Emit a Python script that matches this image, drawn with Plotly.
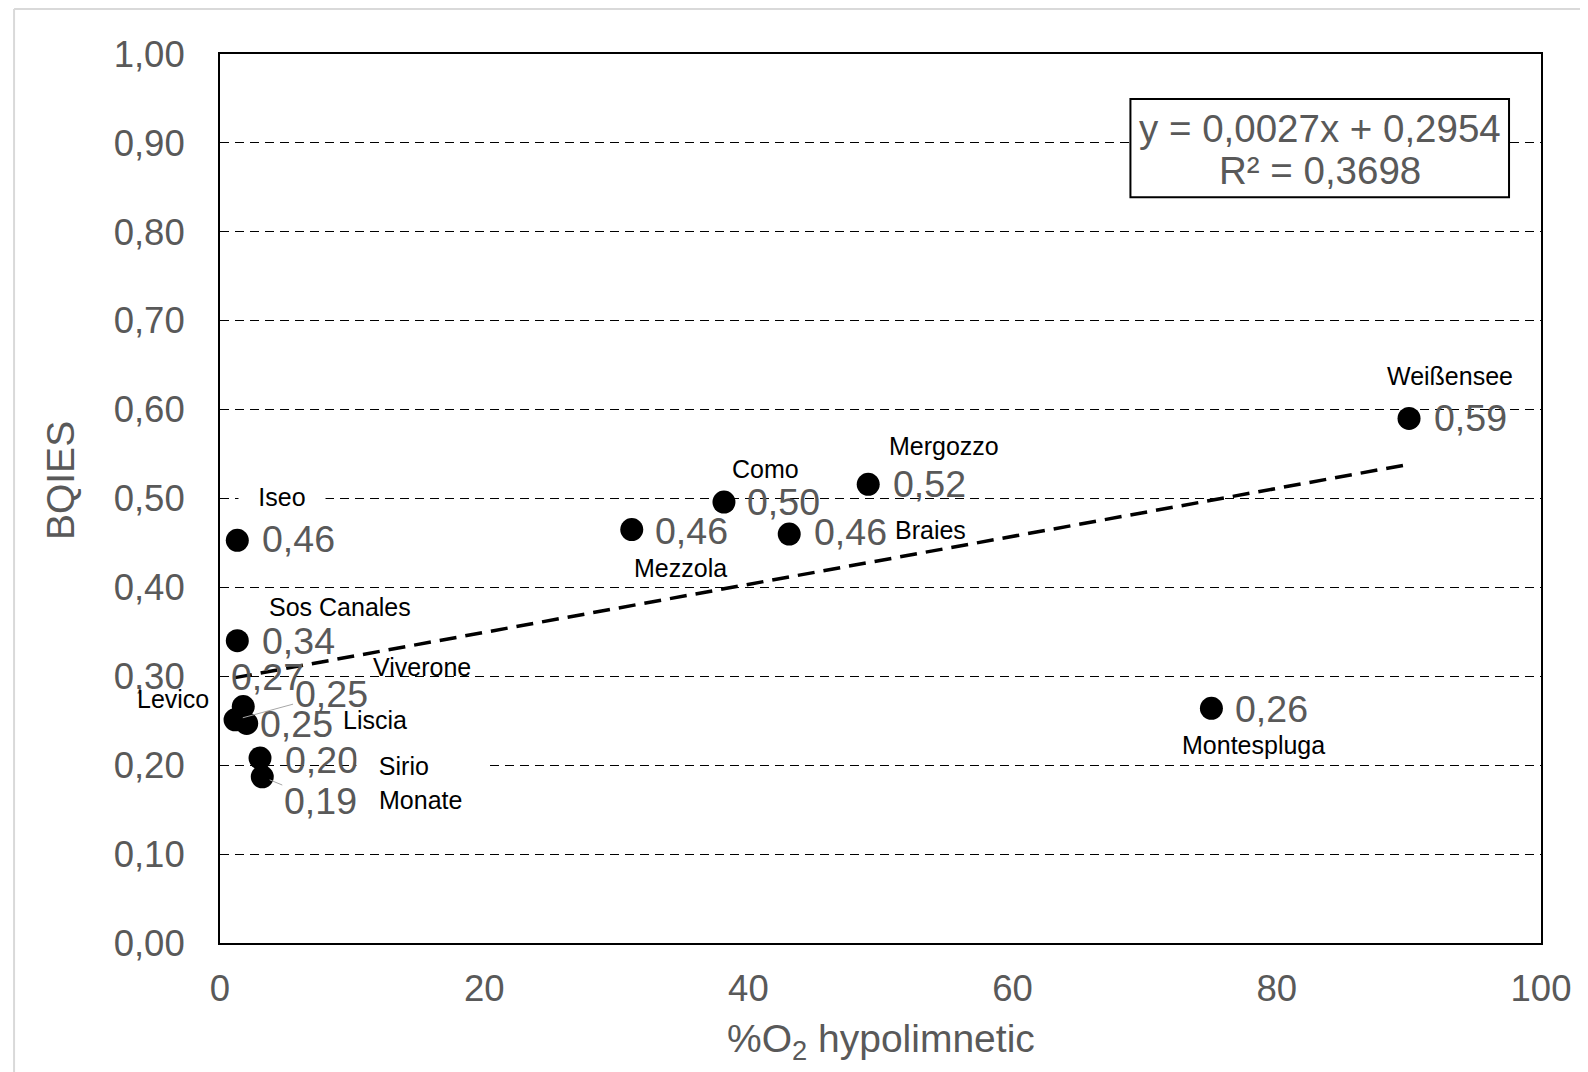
import plotly.graph_objects as go

# ---------------- data ----------------
lakes = ["Iseo", "Sos Canales", "Viverone", "Levico", "Liscia", "Sirio", "Monate",
         "Mezzola", "Como", "Braies", "Mergozzo", "Weißensee", "Montespluga"]
o2_hypo = [1.31, 1.31, 1.76, 1.14, 2.02, 3.03, 3.20,
           31.17, 38.15, 43.09, 49.07, 90.01, 75.05]
bqies = [0.453, 0.340, 0.266, 0.251, 0.247, 0.208, 0.187,
         0.465, 0.496, 0.460, 0.516, 0.590, 0.264]
value_labels = ["0,46", "0,34", "0,27", "0,25", "0,25", "0,20", "0,19",
                "0,46", "0,50", "0,46", "0,52", "0,59", "0,26"]
SLOPE = 0.0027
INTERCEPT = 0.2954
equation_lines = ["y = 0,0027x + 0,2954", "R² = 0,3698"]
x_ticks = [0, 20, 40, 60, 80, 100]
y_ticks = [0.0, 0.1, 0.2, 0.3, 0.4, 0.5, 0.6, 0.7, 0.8, 0.9, 1.0]

# ---------------- label placement (pixel offsets from each point) ----------------
# (value dx, value dy, name dx, name dy, leader)
offsets = {
    "Iseo":        (61, 1, 45, 43, False),
    "Sos Canales": (61, 0, 103, 34, False),
    "Viverone":    (24, 30, 179, 40, False),
    "Levico":      (96, 26, -62, 21, True),
    "Liscia":      (50, -1, 128, 3, False),
    "Sirio":       (61, -2, 162, -8, False),
    "Monate":      (58, -24, 158, -23, True),
    "Mezzola":     (60, -1, 49, -38, False),
    "Como":        (60, 0, 42, 33, False),
    "Braies":      (61, 2, 141, 4, False),
    "Mergozzo":    (61, 0, 76, 38, False),
    "Weißensee":   (61, 0, 41, 42, False),
    "Montespluga": (60, -1, 42, -37, False),
}

FONT = "Liberation Sans, Arial, sans-serif"
GRAY = "#595959"

fig = go.Figure()

xs_trend = [min(o2_hypo), max(o2_hypo)]
fig.add_trace(go.Scatter(
    x=xs_trend, y=[SLOPE * v + INTERCEPT for v in xs_trend],
    mode="lines", line=dict(color="black", width=3.5, dash="17px,9px"),
    hoverinfo="skip", showlegend=False))

fig.add_trace(go.Scatter(
    x=o2_hypo, y=bqies, mode="markers",
    marker=dict(color="black", size=23, line=dict(width=0)),
    text=lakes, showlegend=False))

annotations = []
for name, xv, yv, lab in zip(lakes, o2_hypo, bqies, value_labels):
    vdx, vdy, ndx, ndy, leader = offsets[name]
    if leader:
        annotations.append(dict(
            x=xv, y=yv, xref="x", yref="y", text=lab, showarrow=True,
            ax=vdx, ay=-vdy, arrowhead=0, arrowwidth=1, arrowcolor="#a6a6a6",
            standoff=8, font=dict(family=FONT, size=37.5, color=GRAY)))
    else:
        annotations.append(dict(
            x=xv, y=yv, xref="x", yref="y", text=lab, showarrow=False,
            xshift=vdx, yshift=vdy, xanchor="center", yanchor="middle",
            font=dict(family=FONT, size=37.5, color=GRAY)))
    nd = dict(x=xv, y=yv, xref="x", yref="y", text=name, showarrow=False,
              xshift=ndx, yshift=ndy, xanchor="center", yanchor="middle",
              font=dict(family=FONT, size=25, color="black"))
    if name == "Iseo":
        nd.update(bgcolor="white", width=84)
    if name == "Sirio":
        nd.update(bgcolor="white", width=129, align="left",
                  text="&nbsp;&nbsp;&nbsp;Sirio")
    annotations.append(nd)

# equation box text
annotations.append(dict(x=0.8325, y=0.9159, xref="paper", yref="paper",
                        text=equation_lines[0], showarrow=False,
                        xanchor="center", yanchor="middle",
                        font=dict(family=FONT, size=38.5, color=GRAY)))
annotations.append(dict(x=0.8325, y=0.8686, xref="paper", yref="paper",
                        text=equation_lines[1], showarrow=False,
                        xanchor="center", yanchor="middle",
                        font=dict(family=FONT, size=38.5, color=GRAY)))
# axis titles
annotations.append(dict(x=-0.1203, y=0.5197, xref="paper", yref="paper",
                        text="BQIES", textangle=-90, showarrow=False,
                        xanchor="center", yanchor="middle",
                        font=dict(family=FONT, size=39, color=GRAY)))
annotations.append(dict(x=0.5007, y=-0.1106, xref="paper", yref="paper",
                        text="%O<sub>2</sub> hypolimnetic", showarrow=False,
                        xanchor="center", yanchor="middle",
                        font=dict(family=FONT, size=39, color=GRAY)))

shapes = [
    dict(type="rect", xref="paper", yref="paper", x0=0.6892, x1=0.9758,
         y0=0.8390, y1=0.9494, line=dict(color="black", width=2),
         fillcolor="white", layer="above"),
    # page frame
    dict(type="line", xref="paper", yref="paper", x0=-0.1559, x1=1.04,
         y0=1.0505, y1=1.0505, line=dict(color="#d9d9d9", width=2)),
    dict(type="line", xref="paper", yref="paper", x0=-0.1559, x1=-0.1559,
         y0=1.0505, y1=-0.15, line=dict(color="#d9d9d9", width=2)),
]

fig.update_layout(
    width=1588, height=1072,
    margin=dict(l=212, r=55, t=46, b=137),
    paper_bgcolor="white", plot_bgcolor="white",
    separators=",.",
    showlegend=False,
    annotations=annotations,
    shapes=shapes,
    font=dict(family=FONT, color=GRAY),
    xaxis=dict(range=[0, 100], tickvals=x_ticks, showgrid=False, zeroline=False,
               showline=True, mirror=True, linecolor="black", linewidth=2,
               ticks="", ticklabelstandoff=12,
               tickfont=dict(family=FONT, size=36.5, color=GRAY)),
    yaxis=dict(range=[0, 1], tickvals=y_ticks, tickformat=".2f",
               showgrid=True, gridcolor="black", gridwidth=1, griddash="9px,6px",
               zeroline=False, showline=True, mirror=True, linecolor="black",
               linewidth=2, ticks="", ticklabelstandoff=26,
               tickfont=dict(family=FONT, size=36.5, color=GRAY)),
)

fig.write_html("out.html")
